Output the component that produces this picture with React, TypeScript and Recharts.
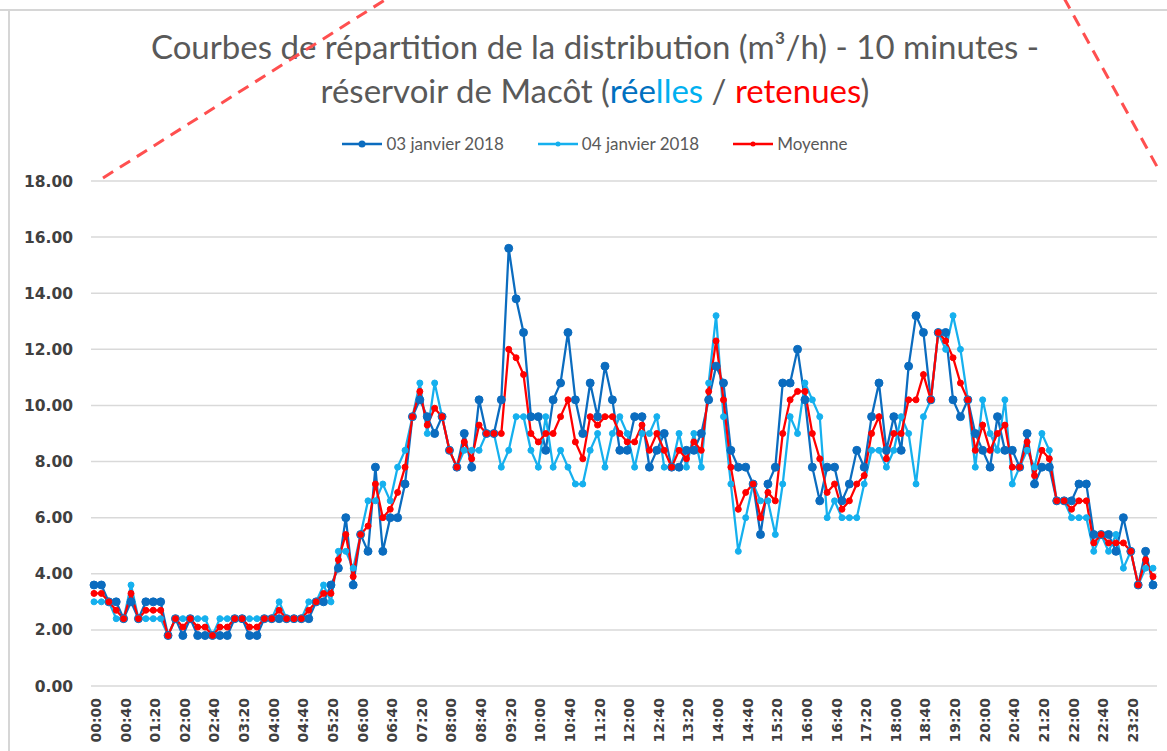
import React from "react";
import { LineChart, Line, XAxis, YAxis, CartesianGrid } from "recharts";

// 10-minute slots over the day (00:00 → 23:50)
const pad = (n: number) => String(n).padStart(2, "0");
const times = Array.from({ length: 144 }, (_, i) => `${pad(Math.floor(i / 6))}:${pad((i % 6) * 10)}`);

const yTicks = [0, 2, 4, 6, 8, 10, 12, 14, 16, 18];

const jan03 = [
  3.6, 3.6, 3.0, 3.0, 2.4, 3.0, 2.4, 3.0, 3.0, 3.0, 1.8, 2.4, 1.8, 2.4, 1.8, 1.8, 1.8, 1.8, 1.8, 2.4,
  2.4, 1.8, 1.8, 2.4, 2.4, 2.4, 2.4, 2.4, 2.4, 2.4, 3.0, 3.0, 3.6, 4.2, 6.0, 3.6, 5.4, 4.8, 7.8, 4.8,
  6.0, 6.0, 7.2, 9.6, 10.2, 9.6, 9.0, 9.6, 8.4, 7.8, 9.0, 7.8, 10.2, 9.0, 9.0, 10.2, 15.6, 13.8, 12.6, 9.6,
  9.6, 8.4, 10.2, 10.8, 12.6, 10.2, 9.0, 10.8, 9.6, 11.4, 10.2, 8.4, 8.4, 9.6, 9.6, 7.8, 8.4, 9.0, 7.8, 7.8,
  8.4, 8.4, 9.0, 10.2, 11.4, 10.8, 8.4, 7.8, 7.8, 7.2, 5.4, 7.2, 7.8, 10.8, 10.8, 12.0, 10.2, 7.8, 6.6, 7.8,
  7.8, 6.6, 7.2, 8.4, 7.8, 9.6, 10.8, 8.4, 9.6, 8.4, 11.4, 13.2, 12.6, 10.2, 12.6, 12.6, 10.2, 9.6, 10.2, 9.0,
  8.4, 7.8, 9.6, 8.4, 8.4, 7.8, 9.0, 7.2, 7.8, 7.8, 6.6, 6.6, 6.6, 7.2, 7.2, 5.4, 5.4, 5.4, 4.8, 6.0,
  4.8, 3.6, 4.8, 3.6,
];

const jan04 = [
  3.0, 3.0, 3.0, 2.4, 2.4, 3.6, 2.4, 2.4, 2.4, 2.4, 1.8, 2.4, 2.4, 2.4, 2.4, 2.4, 1.8, 2.4, 2.4, 2.4,
  2.4, 2.4, 2.4, 2.4, 2.4, 3.0, 2.4, 2.4, 2.4, 3.0, 3.0, 3.6, 3.0, 4.8, 4.8, 4.2, 5.4, 6.6, 6.6, 7.2,
  6.6, 7.8, 8.4, 9.6, 10.8, 9.0, 10.8, 9.6, 8.4, 7.8, 8.4, 8.4, 8.4, 9.0, 9.0, 7.8, 8.4, 9.6, 9.6, 8.4,
  7.8, 9.6, 7.8, 8.4, 7.8, 7.2, 7.2, 8.4, 9.0, 7.8, 9.0, 9.6, 9.0, 7.8, 9.0, 9.0, 9.6, 7.8, 7.8, 9.0,
  7.8, 9.0, 7.8, 10.8, 13.2, 9.6, 7.2, 4.8, 6.0, 7.2, 6.6, 6.6, 5.4, 7.2, 9.6, 9.0, 10.8, 10.2, 9.6, 6.0,
  6.6, 6.0, 6.0, 6.0, 7.2, 8.4, 8.4, 7.8, 8.4, 9.6, 9.0, 7.2, 9.6, 10.2, 12.6, 12.0, 13.2, 12.0, 10.2, 7.8,
  10.2, 9.0, 8.4, 10.2, 7.2, 7.8, 8.4, 7.8, 9.0, 8.4, 6.6, 6.6, 6.0, 6.0, 6.0, 4.8, 5.4, 4.8, 5.4, 4.2,
  4.8, 3.6, 4.2, 4.2,
];

const moyenne = [
  3.3, 3.3, 3.0, 2.7, 2.4, 3.3, 2.4, 2.7, 2.7, 2.7, 1.8, 2.4, 2.1, 2.4, 2.1, 2.1, 1.8, 2.1, 2.1, 2.4,
  2.4, 2.1, 2.1, 2.4, 2.4, 2.7, 2.4, 2.4, 2.4, 2.7, 3.0, 3.3, 3.3, 4.5, 5.4, 3.9, 5.4, 5.7, 7.2, 6.0,
  6.3, 6.9, 7.8, 9.6, 10.5, 9.3, 9.9, 9.6, 8.4, 7.8, 8.7, 8.1, 9.3, 9.0, 9.0, 9.0, 12.0, 11.7, 11.1, 9.0,
  8.7, 9.0, 9.0, 9.6, 10.2, 8.7, 8.1, 9.6, 9.3, 9.6, 9.6, 9.0, 8.7, 8.7, 9.3, 8.4, 9.0, 8.4, 7.8, 8.4,
  8.1, 8.7, 8.4, 10.5, 12.3, 10.2, 7.8, 6.3, 6.9, 7.2, 6.0, 6.9, 6.6, 9.0, 10.2, 10.5, 10.5, 9.0, 8.1, 6.9,
  7.2, 6.3, 6.6, 7.2, 7.5, 9.0, 9.6, 8.1, 9.0, 9.0, 10.2, 10.2, 11.1, 10.2, 12.6, 12.3, 11.7, 10.8, 10.2, 8.4,
  9.3, 8.4, 9.0, 9.3, 7.8, 7.8, 8.7, 7.5, 8.4, 8.1, 6.6, 6.6, 6.3, 6.6, 6.6, 5.1, 5.4, 5.1, 5.1, 5.1,
  4.8, 3.6, 4.5, 3.9,
];

const data = times.map((t, i) => ({ time: t, j03: jan03[i], j04: jan04[i], moy: moyenne[i] }));

const DARK = "#0b6cbf";
const LIGHT = "#15b0ee";
const RED = "#ff0000";
const TEXT = "#595959";
const AXIS_FONT = "'DejaVu Sans', sans-serif";

const series = [
  { key: "j03", name: "03 janvier 2018", color: DARK, r: 4 },
  { key: "j04", name: "04 janvier 2018", color: LIGHT, r: 3 },
  { key: "moy", name: "Moyenne", color: RED, r: 3 },
];

function TimeTick({ x, payload }: any) {
  return (
    <text
      x={x + 2}
      y={698}
      transform={`rotate(-90, ${x + 2}, 698)`}
      textAnchor="end"
      dominantBaseline="central"
      fill="#404040"
      fontFamily={AXIS_FONT}
      fontWeight="bold"
      fontSize={14}
    >
      {payload.value}
    </text>
  );
}

function LegendBox() {
  return (
    <div
      style={{
        position: "absolute", left: 0, top: 133, width: 1190, display: "flex", justifyContent: "center",
        gap: 34, fontFamily: "Lato, sans-serif", fontSize: 17, color: TEXT,
      }}
    >
      {series.map((s) => (
        <div key={s.key} style={{ display: "flex", alignItems: "center", gap: 4 }}>
          <svg width={40} height={12}>
            <line x1={0} y1={6} x2={40} y2={6} stroke={s.color} strokeWidth={2.5} />
            <circle cx={20} cy={6} r={s.r - 0.5} fill={s.color} />
          </svg>
          <span>{s.name}</span>
        </div>
      ))}
    </div>
  );
}

export default function App() {
  return (
    <div style={{ position: "absolute", left: 0, top: 0, width: 1167, height: 751, background: "#fff", overflow: "hidden" }}>
      <div
        style={{
          position: "absolute", left: 0, top: 24, width: 1190, textAlign: "center",
          fontFamily: "Lato, sans-serif", fontSize: 33, lineHeight: "44px", color: TEXT,
        }}
      >
        <div>Courbes de répartition de la distribution (m³/h) - 10 minutes -</div>
        <div>
          réservoir de Macôt (<span style={{ color: "#0070c0" }}>rée</span>
          <span style={{ color: "#00b0f0" }}>lles</span> / <span style={{ color: RED }}>retenues</span>)
        </div>
      </div>
      <LegendBox />
      <LineChart
        width={1167}
        height={751}
        data={data}
        margin={{ top: 181, right: 10, left: 11, bottom: 5 }}
      >
        <CartesianGrid vertical={false} stroke="#d9d9d9" strokeWidth={1.5} />
        <XAxis
          dataKey="time"
          interval={3}
          tick={<TimeTick />}
          axisLine={false}
          tickLine={false}
          height={60}
          padding={{ left: 3, right: 4 }}
        />
        <YAxis
          domain={[0, 18]}
          ticks={yTicks}
          width={80}
          axisLine={false}
          tickLine={false}
          tickMargin={12}
          tickFormatter={(v: number) => v.toFixed(2)}
          tick={{ fill: "#404040", fontFamily: AXIS_FONT, fontWeight: "bold", fontSize: 15.5 }}
        />
        {series.map((s) => (
          <Line
            key={s.key}
            dataKey={s.key}
            name={s.name}
            stroke={s.color}
            strokeWidth={2.25}
            dot={{ r: s.r, fill: s.color, stroke: s.color, strokeWidth: 1 }}
            activeDot={false}
            isAnimationActive={false}
          />
        ))}
      </LineChart>
      <svg width={1167} height={751} style={{ position: "absolute", left: 0, top: 0, pointerEvents: "none" }}>
        <line x1={0} y1={10} x2={1167} y2={10} stroke="#d6d6d6" strokeWidth={2} />
        <line x1={9} y1={10} x2={9} y2={751} stroke="#d6d6d6" strokeWidth={2} />
        <line x1={103} y1={178} x2={388} y2={-2} stroke="#ff4f4f" strokeWidth={3} strokeDasharray="12 8" />
        <line x1={1064} y1={-2} x2={1160} y2={172} stroke="#ff4f4f" strokeWidth={3} strokeDasharray="12 8" />
      </svg>
    </div>
  );
}
